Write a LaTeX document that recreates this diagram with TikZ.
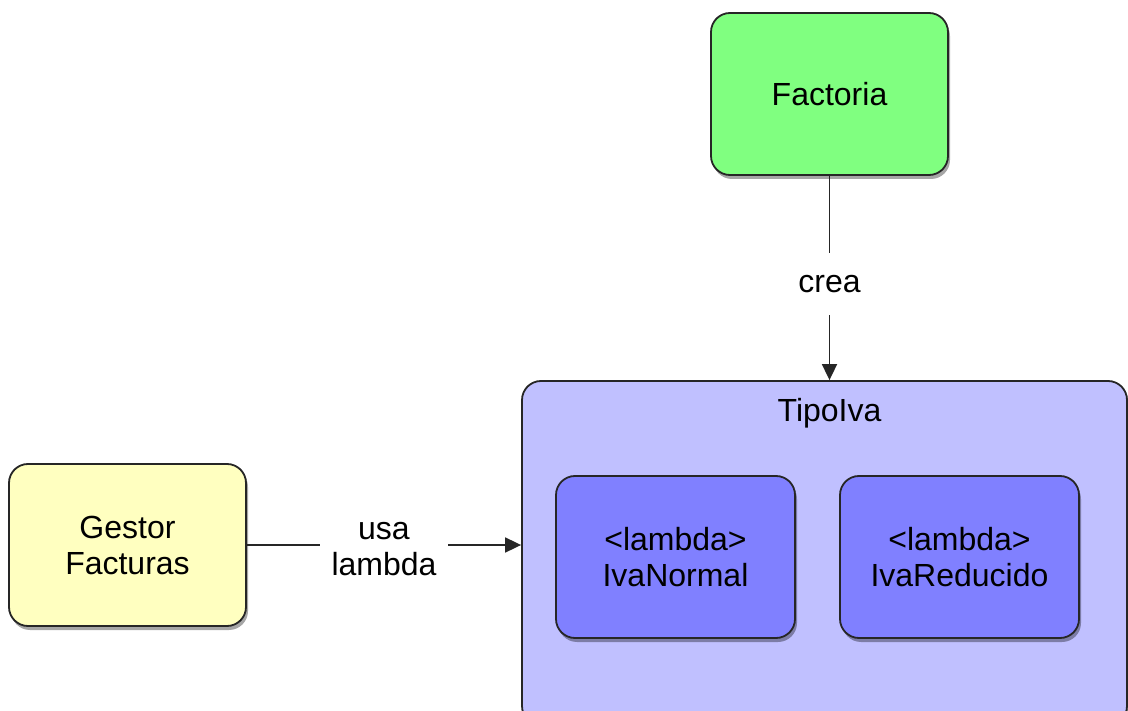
\documentclass[tikz,border=0pt]{standalone}
\usepackage{fontspec}
\setmainfont{Liberation Sans}
\usetikzlibrary{shadows,arrows.meta}
\begin{document}
\begin{tikzpicture}[x=1pt,y=-1pt,
  box/.style={draw=black!85,line width=1.8pt,rounded corners=19pt,
    minimum width=237pt,minimum height=162pt,align=center,
    font=\fontsize{32}{36}\selectfont,
    drop shadow={shadow xshift=2pt,shadow yshift=-4pt,opacity=0.35,fill=black}},
  lbl/.style={fill=white,font=\fontsize{32}{36}\selectfont,align=center},
  conn/.style={draw=black!85,line width=1.8pt,-{Triangle[length=16pt,width=15pt]}}
]
\useasboundingbox (0,0) rectangle (1128,711);
\node[box,fill={rgb,255:red,128;green,255;blue,128}] (F) at (829.5,94) {Factoria};
\node[box,fill={rgb,255:red,255;green,255;blue,192}] (G) at (127.5,545) {Gestor\\Facturas};
\node[box,fill={rgb,255:red,192;green,192;blue,255},minimum width=605pt,minimum height=344pt] (T) at (824.5,553) {};
\node[font=\fontsize{32}{36}\selectfont] (Tt) at (829.5,413) {TipoIva};
\node[box,fill={rgb,255:red,128;green,128;blue,255},minimum width=239pt] (N) at (675.5,557) {<lambda>\\IvaNormal};
\node[box,fill={rgb,255:red,128;green,128;blue,255},minimum width=239pt] (R) at (959.5,557) {<lambda>\\IvaReducido};
\draw[conn] (F.south) -- node[lbl,pos=0.53,inner xsep=4pt,inner ysep=22pt] (c) {crea} (F.south |- T.north);
\draw[conn] (G.east) -- node[lbl,pos=0.5,inner xsep=12pt,inner ysep=4pt,yshift=-4pt] (u) {usa\\lambda} (G.east -| T.west);
\end{tikzpicture}
\end{document}
